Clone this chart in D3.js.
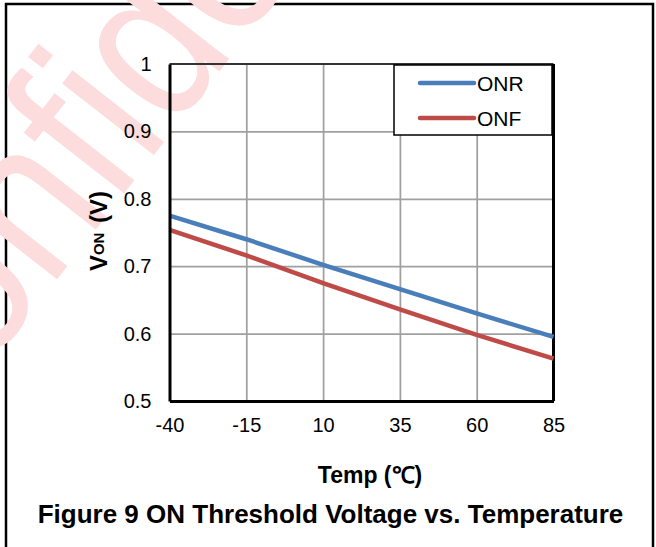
<!DOCTYPE html>
<html>
<head>
<meta charset="utf-8">
<script src="https://cdn.jsdelivr.net/npm/d3@7"></script>
<style>
  html, body { margin: 0; padding: 0; background: #fff; }
  svg { display: block; }
  text { font-family: "Liberation Sans", Arial, sans-serif; }
</style>
</head>
<body>
<svg id="chart" width="656" height="547"></svg>
<script>
// ---- data ----
const temps = [-40, -15, 10, 35, 60, 85];
const onrValues = [0.775, 0.740, 0.702, 0.666, 0.630, 0.595];
const onfValues = [0.754, 0.716, 0.675, 0.636, 0.598, 0.563];
const seriesNames = ["ONR", "ONF"];
const xTicks = [-40, -15, 10, 35, 60, 85];
const xTickLabels = ["-40", "-15", "10", "35", "60", "85"];
const yTicks = [0.5, 0.6, 0.7, 0.8, 0.9, 1];
const yTickLabels = ["0.5", "0.6", "0.7", "0.8", "0.9", "1"];
const xTitle = "Temp (\u2103)";
const figTitle = "Figure 9 ON Threshold Voltage vs. Temperature";
const watermark = "Confidential";

const colors = ["#4A7EBB", "#BE4B48"];

const svg = d3.select("#chart");

// outer frame
svg.append("rect").attr("x", 6).attr("y", 4).attr("width", 647).attr("height", 580)
  .attr("fill", "#fff").attr("stroke", "#000").attr("stroke-width", 2.5);

// watermark
svg.append("text")
  .attr("transform", "translate(-100,480) rotate(-52) scale(0.86,1)")
  .attr("font-size", 220)
  .attr("fill", "#fcdcdc")
  .text(watermark);

const x = d3.scaleLinear().domain([-40, 85]).range([169.5, 553.5]);
const y = d3.scaleLinear().domain([0.5, 1]).range([401, 64]);

// gridlines
const g = svg.append("g");
g.append("g").attr("transform", `translate(0,${y(0.5)})`)
  .call(d3.axisBottom(x).tickValues(xTicks.slice(1, -1)).tickSize(-(y(0.5) - y(1))).tickFormat(""))
  .call(a => a.select(".domain").remove())
  .call(a => a.selectAll("line").attr("stroke", "#a0a0a0").attr("stroke-width", 1.75));
g.append("g").attr("transform", `translate(${x(-40)},0)`)
  .call(d3.axisLeft(y).tickValues(yTicks.slice(1, -1)).tickSize(-(x(85) - x(-40))).tickFormat(""))
  .call(a => a.select(".domain").remove())
  .call(a => a.selectAll("line").attr("stroke", "#a0a0a0").attr("stroke-width", 1.75));

// plot border (top, right)
svg.append("line").attr("x1", x(-40)).attr("x2", x(85)).attr("y1", y(1)).attr("y2", y(1))
  .attr("stroke", "#333").attr("stroke-width", 2);
svg.append("line").attr("x1", x(85)).attr("x2", x(85)).attr("y1", y(1)).attr("y2", y(0.5))
  .attr("stroke", "#000").attr("stroke-width", 3);

// series lines
const line = d3.line().x((d, i) => x(temps[i])).y(d => y(d));
[onrValues, onfValues].forEach((vals, k) => {
  svg.append("path").datum(vals).attr("d", line)
    .attr("fill", "none").attr("stroke", colors[k]).attr("stroke-width", 4.5)
    .attr("stroke-linejoin", "round");
});

// axes (left, bottom) with labels
const yAxis = svg.append("g").attr("transform", `translate(${x(-40)},0)`)
  .call(d3.axisLeft(y).tickValues(yTicks).tickSize(0).tickPadding(18)
    .tickFormat((d, i) => yTickLabels[i]));
yAxis.select(".domain").attr("stroke", "#000").attr("stroke-width", 3);
yAxis.selectAll("text").attr("font-size", 20).attr("fill", "#000")
  .attr("font-family", "Liberation Sans, Arial, sans-serif");

const xAxis = svg.append("g").attr("transform", `translate(0,${y(0.5)})`)
  .call(d3.axisBottom(x).tickValues(xTicks).tickSize(0).tickPadding(17)
    .tickFormat((d, i) => xTickLabels[i]));
xAxis.select(".domain").attr("stroke", "#000").attr("stroke-width", 3);
xAxis.selectAll("text").attr("font-size", 20).attr("fill", "#000")
  .attr("font-family", "Liberation Sans, Arial, sans-serif");

// legend
const lg = svg.append("g");
lg.append("rect").attr("x", 394).attr("y", 65).attr("width", 158).attr("height", 70)
  .attr("fill", "#fff").attr("stroke", "#000").attr("stroke-width", 1.5);
seriesNames.forEach((name, k) => {
  const ly = 83 + k * 35;
  lg.append("line").attr("x1", 420).attr("x2", 474).attr("y1", ly).attr("y2", ly)
    .attr("stroke", colors[k]).attr("stroke-width", 4.5).attr("stroke-linecap", "round");
  lg.append("text").attr("x", 477).attr("y", ly).attr("dy", "0.36em")
    .attr("font-size", 21).text(name);
});

// y title
const yt = svg.append("text").attr("transform", "translate(107,231) rotate(-90)")
  .attr("text-anchor", "middle").attr("font-weight", "bold").attr("font-size", 24);
yt.append("tspan").text("V");
yt.append("tspan").attr("font-size", 15).attr("dy", -3).text("ON");
yt.append("tspan").attr("dy", 3).attr("dx", 3).text(" (V)");

// x title
svg.append("text").attr("x", 370).attr("y", 483).attr("text-anchor", "middle")
  .attr("font-weight", "bold").attr("font-size", 23).text(xTitle);

// figure title
svg.append("text").attr("x", 330.5).attr("y", 523).attr("text-anchor", "middle")
  .attr("font-weight", "bold").attr("font-size", 26).text(figTitle);
</script>
</body>
</html>
